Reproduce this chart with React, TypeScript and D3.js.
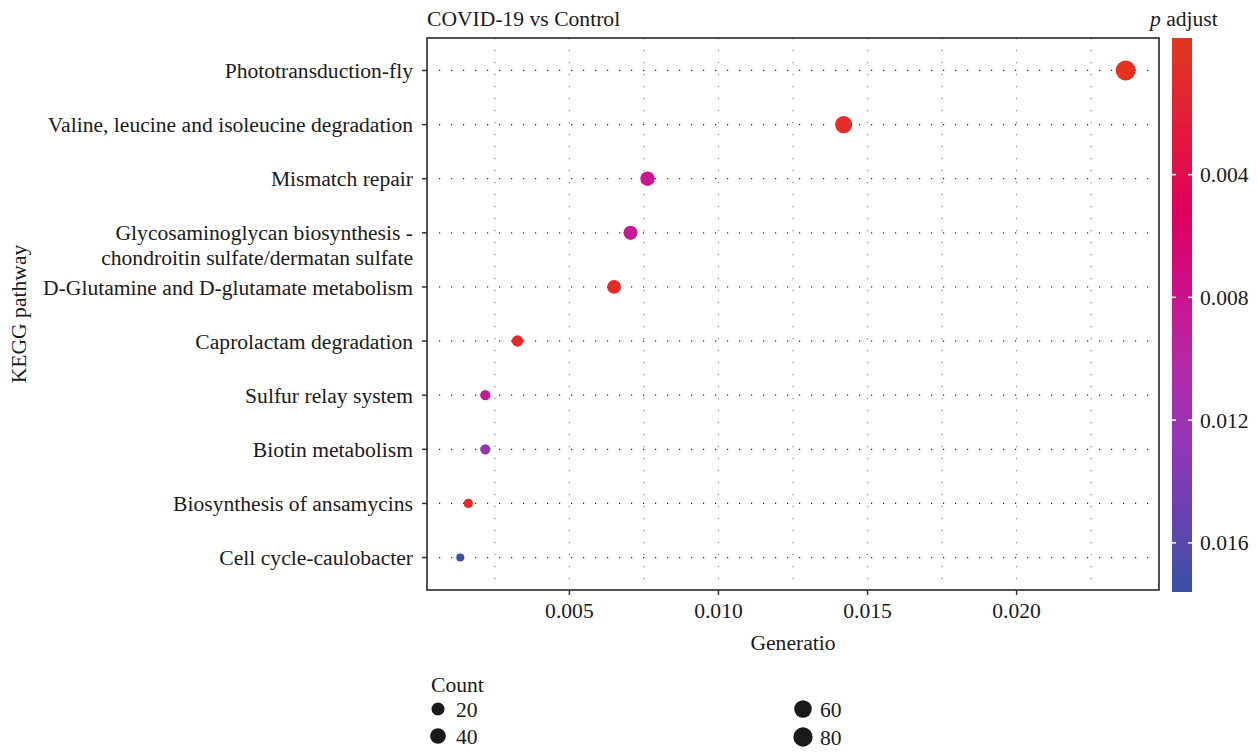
import * as d3 from "d3";

// KEGG enrichment, COVID-19 vs Control
const pathways = [
  "Phototransduction-fly",
  "Valine, leucine and isoleucine degradation",
  "Mismatch repair",
  "Glycosaminoglycan biosynthesis -\nchondroitin sulfate/dermatan sulfate",
  "D-Glutamine and D-glutamate metabolism",
  "Caprolactam degradation",
  "Sulfur relay system",
  "Biotin metabolism",
  "Biosynthesis of ansamycins",
  "Cell cycle-caulobacter",
];
const geneRatio = [0.02366, 0.0142, 0.00762, 0.00705, 0.0065, 0.00326, 0.00218, 0.00218, 0.00161, 0.00134];
const counts = [90, 54, 29, 27, 25, 12, 8, 8, 6, 5];
const pAdjust = [0.00003, 0.0007, 0.0083, 0.0086, 0.0009, 0.001, 0.0089, 0.0125, 0.001, 0.01715];

const xTicks = [0.005, 0.01, 0.015, 0.02];
const xGrid = [0.0025, 0.005, 0.0075, 0.01, 0.0125, 0.015, 0.0175, 0.02, 0.0225];
const pTicks = [0.004, 0.008, 0.012, 0.016];
const countBreaks = [20, 40, 60, 80];

// colour ramp
const rampStops = [0, 0.0025, 0.005, 0.008, 0.0105, 0.0125, 0.015, 0.01715];
const rampColors = ["#e23322", "#e21a3a", "#df0059", "#cc108f", "#b02aa8", "#9535b5", "#6a40b0", "#3e4fa6"];

const W = 1257;
const H = 752;
const panel = { left: 427, right: 1159, top: 38, bottom: 590 };
const font = "'Liberation Serif', 'DejaVu Serif', serif";
const fs = 21.6;

export default function App() {
  const xExt = d3.extent(geneRatio) as [number, number];
  const pad = (xExt[1] - xExt[0]) * 0.05;
  const x = d3.scaleLinear().domain([xExt[0] - pad, xExt[1] + pad]).range([panel.left, panel.right]);

  const y = d3
    .scalePoint<string>()
    .domain(pathways)
    .range([panel.top, panel.bottom])
    .padding(0.6);

  const color = d3.scaleLinear<string>().domain(rampStops).range(rampColors).interpolate(d3.interpolateLab).clamp(true);

  const cMin = d3.min(counts)!;
  const cMax = d3.max(counts)!;
  const rLin = d3.scaleLinear().domain([0, 1]).range([4, 10]);
  const radius = (c: number) => rLin(Math.sqrt(Math.max(0, c - cMin) / (cMax - cMin)));

  // colour bar
  const pExt = [0, d3.max(pAdjust)!];
  const bar = { x: 1172, w: 20, top: 38, bottom: 592 };
  const inset = (bar.bottom - bar.top) * 0.025;
  const pScale = d3.scaleLinear().domain(pExt).range([bar.top + inset, bar.bottom - inset]);
  const barSteps = d3.range(0, 101).map((i) => pExt[0] + ((pExt[1] - pExt[0]) * i) / 100);

  const legendPos = [
    { x: 438, y: 709, lx: 456 },
    { x: 438, y: 736, lx: 456 },
    { x: 803, y: 709, lx: 820 },
    { x: 803, y: 737, lx: 820 },
  ];

  return (
    <svg width={W} height={H} style={{ position: "absolute", left: 0, top: 0, background: "#fff" }} fontFamily={font}>
      <defs>
        <linearGradient id="pgrad" x1="0" y1="0" x2="0" y2="1">
          {barSteps.map((p, i) => (
            <stop key={i} offset={`${(pScale(p) - bar.top) / (bar.bottom - bar.top)}`} stopColor={color(p)} />
          ))}
        </linearGradient>
      </defs>

      {/* grid */}
      {xGrid.map((v) => (
        <line key={v} x1={x(v)} x2={x(v)} y1={panel.top} y2={panel.bottom} stroke="#8a8a8a" strokeWidth={1.2} strokeDasharray="1.2,10.8" />
      ))}
      {pathways.map((p) => (
        <line key={p} x1={panel.left + 12} x2={panel.right} y1={y(p)} y2={y(p)} stroke="#222" strokeWidth={1.2} strokeDasharray="1.2,10.8" />
      ))}

      {/* points */}
      {pathways.map((p, i) => (
        <circle key={p} cx={x(geneRatio[i])} cy={y(p)} r={radius(counts[i])} fill={color(pAdjust[i])} />
      ))}

      <rect x={panel.left} y={panel.top} width={panel.right - panel.left} height={panel.bottom - panel.top} fill="none" stroke="#1a1a1a" strokeWidth={1.5} />

      {/* y axis */}
      {pathways.map((p) => {
        const lines = p.split("\n");
        return (
          <g key={p}>
            <line x1={panel.left - 5} x2={panel.left} y1={y(p)} y2={y(p)} stroke="#333" strokeWidth={1.5} />
            {lines.map((ln, j) => (
              <text key={j} x={panel.left - 14} y={y(p)! + j * 25} dy="0.35em" textAnchor="end" fontSize={fs} fill="#1a1a1a">
                {ln}
              </text>
            ))}
          </g>
        );
      })}

      {/* x axis */}
      {xTicks.map((v) => (
        <g key={v}>
          <line x1={x(v)} x2={x(v)} y1={panel.bottom} y2={panel.bottom + 5} stroke="#333" strokeWidth={1.5} />
          <text x={x(v)} y={panel.bottom + 20} dy="0.35em" textAnchor="middle" fontSize={fs} fill="#1a1a1a">
            {d3.format(".3f")(v)}
          </text>
        </g>
      ))}

      <text x={(panel.left + panel.right) / 2} y={642} dy="0.35em" textAnchor="middle" fontSize={fs} fill="#1a1a1a">
        Generatio
      </text>
      <text transform={`translate(18,${(panel.top + panel.bottom) / 2}) rotate(-90)`} dy="0.35em" textAnchor="middle" fontSize={fs} fill="#1a1a1a">
        KEGG pathway
      </text>
      <text x={panel.left} y={18} dy="0.35em" fontSize={fs} fill="#1a1a1a">
        COVID-19 vs Control
      </text>

      {/* colour bar */}
      <text x={1150} y={18} dy="0.35em" fontSize={fs} fill="#1a1a1a">
        <tspan fontStyle="italic">p</tspan> adjust
      </text>
      <rect x={bar.x} y={bar.top} width={bar.w} height={bar.bottom - bar.top} fill="url(#pgrad)" />
      {pTicks.map((v) => (
        <g key={v}>
          <line x1={bar.x} x2={bar.x + 4} y1={pScale(v)} y2={pScale(v)} stroke="#fff" strokeWidth={1.5} />
          <line x1={bar.x + bar.w - 4} x2={bar.x + bar.w} y1={pScale(v)} y2={pScale(v)} stroke="#fff" strokeWidth={1.5} />
          <text x={1200} y={pScale(v)} dy="0.35em" fontSize={fs} fill="#1a1a1a">
            {d3.format(".3f")(v)}
          </text>
        </g>
      ))}

      {/* size legend */}
      <text x={431} y={684} dy="0.35em" fontSize={fs} fill="#1a1a1a">
        Count
      </text>
      {countBreaks.map((c, i) => (
        <g key={c}>
          <circle cx={legendPos[i].x} cy={legendPos[i].y} r={radius(c)} fill="#1a1a1a" />
          <text x={legendPos[i].lx} y={legendPos[i].y} dy="0.35em" fontSize={fs} fill="#1a1a1a">
            {c}
          </text>
        </g>
      ))}
    </svg>
  );
}
